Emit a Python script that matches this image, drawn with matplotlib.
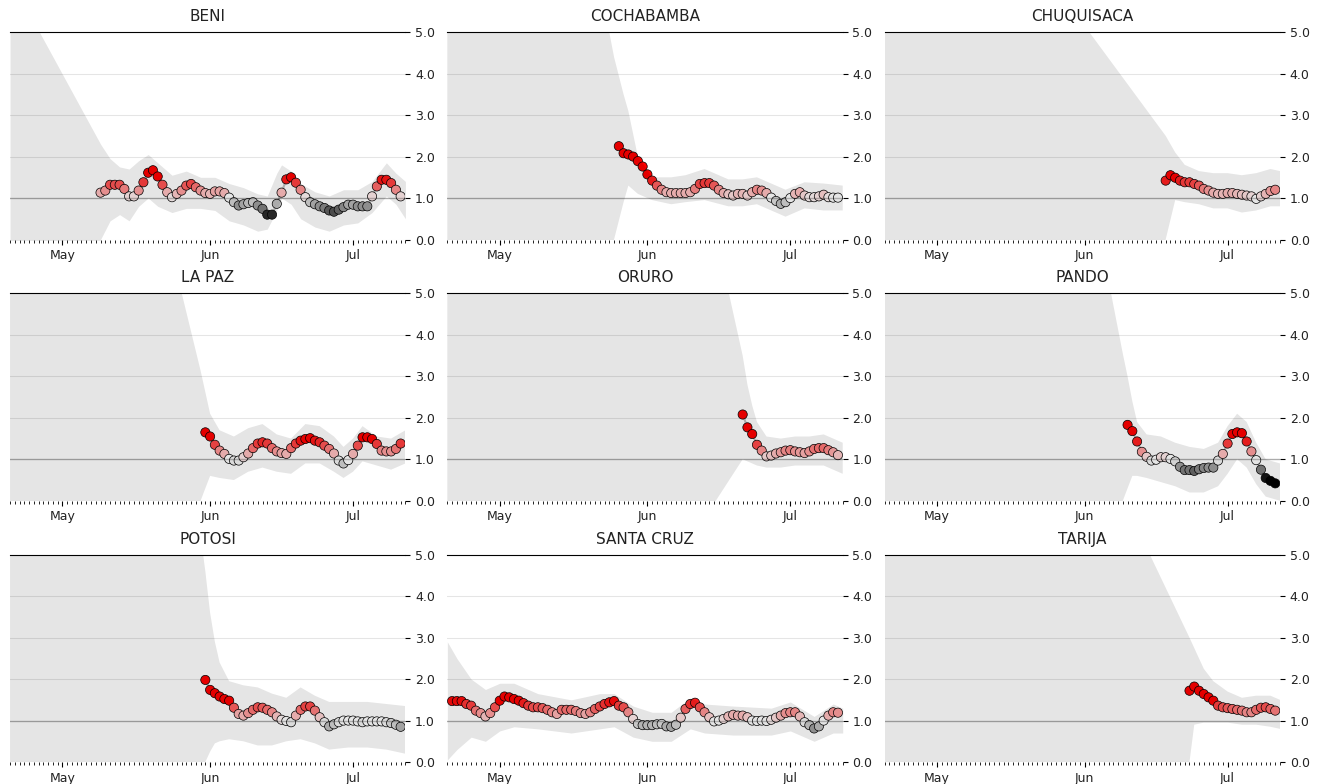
import numpy as np
import pandas as pd
import matplotlib
matplotlib.use('Agg')
import matplotlib.pyplot as plt
import matplotlib.dates as mdates
import matplotlib.ticker as ticker
from matplotlib.colors import ListedColormap

# all series end on the same day
last_day = pd.Timestamp('2020-07-11')
x_start = pd.Timestamp('2020-04-20')
x_end = pd.Timestamp('2020-07-12')

states = ['BENI', 'COCHABAMBA', 'CHUQUISACA', 'LA PAZ', 'ORURO', 'PANDO',
          'POTOSI', 'SANTA CRUZ', 'TARIJA']

# most likely Rt, one value per day up to last_day
beni_rt = [1.13, 1.18, 1.32, 1.32, 1.32, 1.22, 1.04, 1.04, 1.18, 1.38,
           1.61, 1.67, 1.52, 1.32, 1.14, 1.02, 1.10, 1.18, 1.30, 1.34,
           1.26, 1.18, 1.12, 1.10, 1.16, 1.16, 1.12, 1.01, 0.90, 0.82,
           0.85, 0.88, 0.90, 0.82, 0.74, 0.60, 0.60, 0.86, 1.13, 1.45,
           1.50, 1.37, 1.20, 1.02, 0.90, 0.85, 0.80, 0.76, 0.70, 0.67,
           0.72, 0.78, 0.84, 0.84, 0.80, 0.80, 0.80, 1.04, 1.28, 1.44,
           1.44, 1.36, 1.20, 1.04]
cochabamba_rt = [2.25, 2.08, 2.05, 2.00, 1.89, 1.76, 1.57, 1.42, 1.30, 1.20,
                 1.14, 1.12, 1.12, 1.12, 1.12, 1.14, 1.22, 1.34, 1.36, 1.36,
                 1.30, 1.20, 1.12, 1.09, 1.06, 1.10, 1.10, 1.06, 1.14, 1.20,
                 1.18, 1.12, 1.01, 0.93, 0.86, 0.90, 1.00, 1.10, 1.14, 1.06,
                 1.02, 1.02, 1.04, 1.08, 1.02, 1.01, 1.01]
chuquisaca_rt = [1.42, 1.55, 1.49, 1.42, 1.38, 1.38, 1.34, 1.30, 1.22, 1.18,
                 1.13, 1.10, 1.10, 1.12, 1.12, 1.10, 1.08, 1.06, 1.04, 0.98,
                 1.04, 1.10, 1.17, 1.20]
lapaz_rt = [1.65, 1.55, 1.35, 1.21, 1.13, 1.01, 0.97, 0.97, 1.05, 1.14,
            1.27, 1.38, 1.41, 1.38, 1.27, 1.19, 1.15, 1.13, 1.27, 1.38,
            1.45, 1.49, 1.51, 1.45, 1.41, 1.33, 1.25, 1.14, 0.97, 0.90,
            0.98, 1.13, 1.33, 1.53, 1.53, 1.49, 1.37, 1.21, 1.19, 1.19,
            1.25, 1.38]
oruro_rt = [2.08, 1.77, 1.61, 1.35, 1.21, 1.07, 1.09, 1.14, 1.17, 1.21,
            1.22, 1.19, 1.17, 1.15, 1.19, 1.25, 1.27, 1.27, 1.22, 1.17, 1.10]
pando_rt = [1.83, 1.68, 1.43, 1.18, 1.06, 0.97, 0.99, 1.05, 1.05, 1.01,
            0.95, 0.82, 0.74, 0.74, 0.72, 0.76, 0.79, 0.80, 0.80, 0.97,
            1.13, 1.38, 1.61, 1.65, 1.63, 1.43, 1.19, 0.98, 0.75, 0.55,
            0.48, 0.42]
potosi_rt = [1.98, 1.74, 1.66, 1.58, 1.52, 1.48, 1.31, 1.16, 1.12, 1.18,
             1.26, 1.32, 1.31, 1.26, 1.20, 1.10, 1.02, 0.99, 0.96, 1.12,
             1.26, 1.34, 1.34, 1.24, 1.08, 0.96, 0.86, 0.91, 0.96, 1.00,
             1.00, 1.00, 0.98, 0.96, 0.98, 0.98, 0.98, 0.98, 0.96, 0.94,
             0.90, 0.85]
santacruz_rt = [1.47, 1.47, 1.47, 1.40, 1.36, 1.24, 1.18, 1.10, 1.18, 1.32,
                1.48, 1.58, 1.56, 1.52, 1.48, 1.42, 1.36, 1.32, 1.32, 1.30,
                1.26, 1.20, 1.16, 1.26, 1.26, 1.26, 1.23, 1.18, 1.16, 1.20,
                1.28, 1.34, 1.40, 1.44, 1.47, 1.36, 1.32, 1.20, 1.04, 0.92,
                0.89, 0.89, 0.89, 0.91, 0.92, 0.86, 0.85, 0.90, 1.07, 1.28,
                1.40, 1.43, 1.32, 1.20, 1.08, 0.98, 1.00, 1.04, 1.10, 1.14,
                1.12, 1.12, 1.08, 1.00, 0.99, 1.00, 0.99, 1.02, 1.07, 1.12,
                1.18, 1.20, 1.20, 1.10, 0.96, 0.89, 0.81, 0.86, 1.00, 1.12,
                1.20, 1.19]
tarija_rt = [1.72, 1.82, 1.72, 1.64, 1.56, 1.48, 1.36, 1.32, 1.30, 1.28,
             1.26, 1.24, 1.20, 1.20, 1.26, 1.31, 1.32, 1.28, 1.24]

# 90% band, key points (first point is the extrapolated left edge)
beni_band_days = ['04-20', '05-09', '05-11', '05-13', '05-15', '05-17', '05-19',
                  '05-21', '05-24', '05-27', '05-30', '06-02', '06-05', '06-08',
                  '06-11', '06-13', '06-15', '06-16', '06-18', '06-20', '06-23',
                  '06-26', '06-29', '07-02', '07-05', '07-08', '07-10', '07-12']
beni_lo = [-4.2, 0.0, 0.45, 0.6, 0.45, 0.8, 1.0, 0.8, 0.65, 0.75, 0.75, 0.7, 0.45,
           0.35, 0.2, 0.25, 0.7, 1.0, 0.85, 0.5, 0.3, 0.2, 0.35, 0.4, 0.65, 1.05,
           0.85, 0.5]
beni_hi = [6.3, 2.3, 1.95, 1.75, 1.7, 1.9, 2.05, 1.85, 1.55, 1.65, 1.5, 1.5, 1.35,
           1.25, 1.1, 1.05, 1.6, 1.8, 1.65, 1.35, 1.15, 1.05, 1.2, 1.2, 1.4, 1.85,
           1.6, 1.4]

cochabamba_band_days = ['04-20', '05-24', '05-25', '05-27', '05-28', '05-30',
                        '06-02', '06-06', '06-09', '06-13', '06-18', '06-21',
                        '06-24', '06-27', '06-30', '07-04', '07-08', '07-12']
cochabamba_lo = [-20, -0.3, 0.0, 0.9, 1.3, 1.1, 0.95, 0.85, 0.9, 0.95, 0.8, 0.8,
                 0.85, 0.7, 0.55, 0.75, 0.7, 0.7]
cochabamba_hi = [21.0, 5.0, 4.4, 3.5, 3.1, 2.0, 1.5, 1.5, 1.55, 1.7, 1.45, 1.45,
                 1.5, 1.35, 1.2, 1.38, 1.35, 1.3]

chuquisaca_band_days = ['04-20', '06-18', '06-20', '06-22', '06-25', '06-28',
                        '07-01', '07-04', '07-07', '07-10', '07-12']
chuquisaca_lo = [-40, 0.0, 0.95, 0.9, 0.85, 0.75, 0.75, 0.65, 0.7, 0.8, 0.8]
chuquisaca_hi = [11.7, 2.5, 2.1, 1.8, 1.65, 1.6, 1.6, 1.55, 1.6, 1.7, 1.65]

lapaz_band_days = ['04-20', '05-30', '06-01', '06-03', '06-06', '06-09', '06-12',
                   '06-15', '06-18', '06-21', '06-24', '06-27', '06-29', '07-01',
                   '07-03', '07-06', '07-09', '07-12']
lapaz_lo = [-20, 0.0, 0.6, 0.55, 0.5, 0.7, 0.8, 0.7, 0.65, 0.9, 0.9, 0.7, 0.55,
            0.7, 0.95, 0.85, 0.75, 0.9]
lapaz_hi = [22, 3.14, 2.1, 1.7, 1.55, 1.75, 1.85, 1.6, 1.5, 1.85, 1.8, 1.55, 1.3,
            1.5, 1.8, 1.55, 1.5, 1.7]

oruro_band_days = ['04-20', '06-21', '06-22', '06-23', '06-24', '06-26', '06-29',
                   '07-02', '07-05', '07-08', '07-10', '07-12']
oruro_lo = [-10, 1.0, 0.95, 0.9, 0.85, 0.8, 0.8, 0.85, 0.85, 0.85, 0.75, 0.65]
oruro_hi = [35.7, 3.5, 2.8, 2.3, 1.9, 1.55, 1.5, 1.55, 1.55, 1.6, 1.5, 1.4]

pando_band_days = ['04-20', '06-09', '06-10', '06-11', '06-12', '06-14', '06-17',
                   '06-20', '06-23', '06-26', '06-29', '07-01', '07-03', '07-05',
                   '07-07', '07-09', '07-12']
pando_lo = [-20, 0.0, 0.3, 0.6, 0.6, 0.55, 0.45, 0.35, 0.2, 0.2, 0.35, 0.65, 1.0,
            0.8, 0.4, 0.1, 0.0]
pando_hi = [33, 3.55, 3.0, 2.4, 1.9, 1.6, 1.55, 1.4, 1.3, 1.25, 1.4, 1.8, 2.1, 1.9,
            1.4, 1.0, 0.9]

potosi_band_days = ['04-20', '05-31', '06-01', '06-02', '06-03', '06-05', '06-08',
                    '06-11', '06-14', '06-17', '06-20', '06-23', '06-26', '06-30',
                    '07-04', '07-08', '07-12']
potosi_lo = [-20, 0.0, 0.25, 0.45, 0.5, 0.55, 0.5, 0.4, 0.4, 0.5, 0.55, 0.45, 0.3,
             0.35, 0.35, 0.3, 0.2]
potosi_hi = [40, 4.6, 3.6, 2.9, 2.4, 1.95, 1.85, 1.8, 1.65, 1.55, 1.8, 1.6, 1.45,
             1.45, 1.45, 1.4, 1.35]

santacruz_band_days = ['04-20', '04-22', '04-25', '04-28', '05-01', '05-04',
                       '05-09', '05-16', '05-22', '05-25', '05-29', '06-02',
                       '06-06', '06-10', '06-13', '06-19', '06-27', '07-01',
                       '07-06', '07-10', '07-12']
santacruz_lo = [0.05, 0.3, 0.6, 0.5, 0.75, 0.85, 0.8, 0.7, 0.8, 0.85, 0.6, 0.5,
                0.5, 0.8, 0.7, 0.65, 0.65, 0.75, 0.5, 0.7, 0.7]
santacruz_hi = [2.9, 2.5, 2.0, 1.75, 1.9, 1.9, 1.65, 1.5, 1.65, 1.65, 1.35, 1.2,
                1.2, 1.55, 1.4, 1.35, 1.3, 1.45, 1.1, 1.4, 1.3]

tarija_band_days = ['04-20', '06-23', '06-24', '06-26', '06-28', '07-01', '07-04',
                    '07-07', '07-10', '07-12']
tarija_lo = [-30, 0.0, 0.9, 0.95, 0.95, 0.95, 0.9, 0.9, 0.85, 0.8]
tarija_hi = [18.4, 3.0, 2.75, 2.25, 1.95, 1.7, 1.55, 1.6, 1.6, 1.5]

panels = [
    (beni_rt, beni_band_days, beni_lo, beni_hi),
    (cochabamba_rt, cochabamba_band_days, cochabamba_lo, cochabamba_hi),
    (chuquisaca_rt, chuquisaca_band_days, chuquisaca_lo, chuquisaca_hi),
    (lapaz_rt, lapaz_band_days, lapaz_lo, lapaz_hi),
    (oruro_rt, oruro_band_days, oruro_lo, oruro_hi),
    (pando_rt, pando_band_days, pando_lo, pando_hi),
    (potosi_rt, potosi_band_days, potosi_lo, potosi_hi),
    (santacruz_rt, santacruz_band_days, santacruz_lo, santacruz_hi),
    (tarija_rt, tarija_band_days, tarija_lo, tarija_hi),
]

# black -> white -> red
ABOVE = [1, 0, 0]
MIDDLE = [1, 1, 1]
BELOW = [0, 0, 0]
cmap = ListedColormap(np.r_[np.linspace(BELOW, MIDDLE, 25),
                            np.linspace(MIDDLE, ABOVE, 25)])


def color_mapped(y):
    return np.clip(y, .5, 1.5) - .5


def plot_rt(ax, name, rt, band_days, lo, hi):
    values = np.array(rt)
    index = pd.date_range(end=last_day, periods=len(values), freq='D')
    ax.set_title(name, fontsize=11, pad=8, color='#222222')
    ax.plot(index, values, c='k', zorder=1, alpha=.25)
    ax.scatter(index, values, s=44, lw=.5, c=cmap(color_mapped(values)),
               edgecolors='k', zorder=2)
    band_x = pd.to_datetime(['2020-' + d for d in band_days])
    ax.fill_between(band_x, lo, hi, color='k', alpha=.1, lw=0, zorder=3)
    ax.axhline(1.0, c='k', lw=1, alpha=.25)

    ax.xaxis.set_major_locator(mdates.MonthLocator())
    ax.xaxis.set_major_formatter(mdates.DateFormatter('%b'))
    ax.xaxis.set_minor_locator(mdates.DayLocator())
    ax.yaxis.set_major_locator(ticker.MultipleLocator(1))
    ax.yaxis.set_major_formatter(ticker.StrMethodFormatter("{x:.1f}"))
    ax.yaxis.tick_right()
    ax.tick_params(labelsize=9, labelcolor='#222222')
    ax.spines['left'].set_visible(False)
    ax.spines['bottom'].set_visible(False)
    ax.spines['right'].set_visible(False)
    ax.grid(which='major', axis='y', c='k', alpha=.1, zorder=-2)
    ax.margins(0)
    ax.set_ylim(0.0, 5.0)
    ax.set_xlim(x_start, x_end)


fig, axes = plt.subplots(3, 3, figsize=(13.2, 7.84), dpi=100)
fig.subplots_adjust(left=0.0076, right=0.9697, top=0.959, bottom=0.028,
                    wspace=0.106, hspace=0.26)
fig.set_facecolor('w')

for ax, name, p in zip(axes.flat, states, panels):
    plot_rt(ax, name, *p)

fig.savefig('out.png', dpi=100)
